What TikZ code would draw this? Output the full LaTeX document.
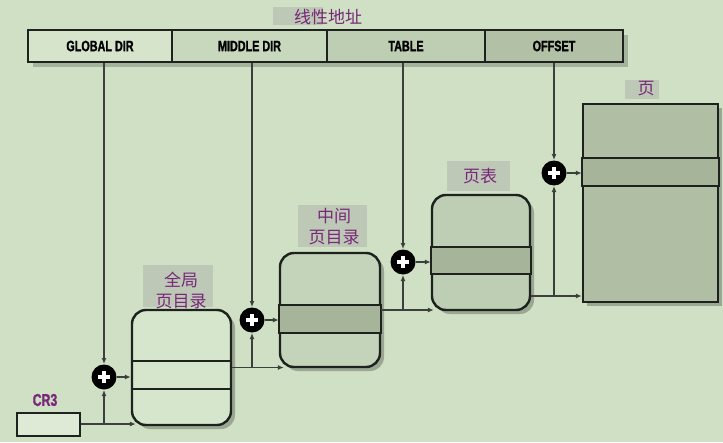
\documentclass[tikz,border=0pt]{standalone}
\usepackage{fontspec}
\setmainfont{Liberation Sans}
\newfontfamily\cjk{Noto Sans CJK SC}
\newfontfamily\fieldfont[FakeStretch=0.72,FakeBold=1.2]{Liberation Sans Bold}
\usepackage{tikz}
\usetikzlibrary{calc}
\usetikzlibrary{arrows.meta}
\usetikzlibrary{shadows}
\tikzset{>={Latex[length=6pt,width=5pt]}}

\definecolor{bg}{RGB}{207,224,196}
\definecolor{edge}{RGB}{30,34,30}
\definecolor{wire}{RGB}{60,64,60}
\definecolor{fglobal}{RGB}{214,228,203}
\definecolor{fmiddle}{RGB}{200,216,188}
\definecolor{ftable}{RGB}{190,206,178}
\definecolor{foffset}{RGB}{178,192,165}
\definecolor{gfill}{RGB}{214,230,204}
\definecolor{mfill}{RGB}{196,212,186}
\definecolor{tfill}{RGB}{190,206,180}
\definecolor{pfill}{RGB}{176,191,163}
\definecolor{band}{RGB}{166,181,153}
\definecolor{patch}{RGB}{190,200,182}
\definecolor{crfill}{RGB}{222,234,214}
\definecolor{lblpurple}{RGB}{120,40,120}

\begin{document}
\begin{tikzpicture}[x=1pt,y=-1pt,
	field/.style={draw=edge,line width=1.6pt,minimum height=32pt,inner sep=0pt,font=\fieldfont\fontsize{15}{17}\selectfont},
	tblbox/.style={draw=edge,line width=2.4pt,rounded corners=14pt,inner sep=0pt,drop shadow={shadow xshift=4pt,shadow yshift=-4pt,opacity=.25,fill=black}},
	pagebox/.style={draw=edge,line width=2.4pt,inner sep=0pt,drop shadow={shadow xshift=4pt,shadow yshift=-4pt,opacity=.25,fill=black}},
	row/.style={draw=edge,line width=2pt},
	adder/.style={circle,fill=black,minimum size=25pt,inner sep=0pt,outer sep=0.5pt,
		path picture={\draw[white,line width=3.5pt] ([xshift=-6pt]path picture bounding box.center) -- ([xshift=6pt]path picture bounding box.center);
			\draw[white,line width=3.5pt] ([yshift=-6pt]path picture bounding box.center) -- ([yshift=6pt]path picture bounding box.center);}},
	link/.style={draw=wire,line width=1.4pt},
	cnlabel/.style={text=lblpurple,font=\cjk\fontsize{17}{21}\selectfont,align=center,inner sep=0pt}]
	\useasboundingbox[fill=bg] (0,0) rectangle (723,442);

	% linear address
	\fill[patch] (273,7) rectangle (323,25);
	\node[cnlabel] (addrlbl) at (328,17) {线性地址};
	\path[fill=fglobal,drop shadow={shadow xshift=5pt,shadow yshift=-5pt,opacity=.2,fill=black}] (28,30) rectangle (623,62);
	\node[field,fill=fglobal,minimum width=144pt] (gdir) at (100,46) {GLOBAL DIR};
	\node[field,fill=fmiddle,minimum width=155pt] (mdir) at (249.5,46) {MIDDLE DIR};
	\node[field,fill=ftable,minimum width=158pt] (tbl) at (406,46) {TABLE};
	\node[field,fill=foffset,minimum width=138pt] (offs) at (554,46) {OFFSET};

	% tables
	\fill[patch] (143,265) rectangle (213,307);
	\node[cnlabel] (pgdlbl) at (181,290) {全局\\页目录};
	\node[tblbox,fill=gfill,minimum width=99pt,minimum height=115pt] (pgd) at (181.5,367.5) {};
	\draw[row] (pgd.west |- 0,361) -- (pgd.east |- 0,361);
	\draw[row] (pgd.west |- 0,389) -- (pgd.east |- 0,389);

	\fill[patch] (298,205) rectangle (367,247);
	\node[cnlabel] (pmdlbl) at (334,227) {中间\\页目录};
	\node[tblbox,fill=mfill,minimum width=100pt,minimum height=114pt] (pmd) at (330,310) {};
	\draw[row,fill=band] (pmd.west |- 0,305) rectangle (pmd.east |- 0,333);

	\fill[patch] (447,161) rectangle (510,191);
	\node[cnlabel] (ptblbl) at (480,176) {页表};
	\node[tblbox,fill=tfill,minimum width=98pt,minimum height=115pt] (ptb) at (481,252.5) {};
	\draw[row,fill=band] (ptb.west |- 0,247) rectangle (ptb.east |- 0,274);

	\fill[patch] (625,80) rectangle (659,99);
	\node[cnlabel] (pglbl) at (646,89) {页};
	\node[pagebox,fill=pfill,minimum width=135pt,minimum height=198pt] (pg) at (650.5,203) {};
	\draw[row,fill=band] (pg.west |- 0,158) rectangle (pg.east |- 0,186);

	% cr3
	\node[text=lblpurple,font=\fieldfont\fontsize{17}{19}\selectfont,inner sep=0pt] (cr3lbl) at (45,400) {CR3};
	\node[draw=edge,line width=2pt,fill=crfill,minimum width=63pt,minimum height=23pt] (cr3) at (48.5,424) {};

	% adders
	\node[adder] (add1) at (104,377) {};
	\node[adder] (add2) at (252,320) {};
	\node[adder] (add3) at (403,262) {};
	\node[adder] (add4) at (554,173) {};

	% connectors
	\draw[link,->] (cr3.east) -- ([xshift=5pt]cr3.east -| pgd.west);
	\draw[link,->] (cr3.east -| add1) -- (add1.south);
	\draw[link,->] (gdir.south -| add1) -- (add1.north);
	\draw[link,->] (add1.east) -- (add1 -| pgd.west);

	\draw[link,->] (pgd.east) -- ([xshift=5pt]pgd.east -| pmd.west);
	\draw[link,->] (pgd.east -| add2) -- (add2.south);
	\draw[link,->] (mdir.south -| add2) -- (add2.north);
	\draw[link,->] (add2.east) -- (add2 -| pmd.west);

	\draw[link,->] (pmd.east) -- ([xshift=3pt]pmd.east -| ptb.west);
	\draw[link,->] (pmd.east -| add3) -- (add3.south);
	\draw[link,->] (tbl.south -| add3) -- (add3.north);
	\draw[link,->] (add3.east) -- (add3 -| ptb.west);

	\draw[link,->] (ptb.east |- 0,296) -- (pg.west |- 0,296);
	\draw[link,->] (add4 |- 0,296) -- (add4.south);
	\draw[link,->] (offs.south -| add4) -- (add4.north);
	\draw[link,->] (add4.east) -- (add4 -| pg.west);
\end{tikzpicture}
\end{document}
